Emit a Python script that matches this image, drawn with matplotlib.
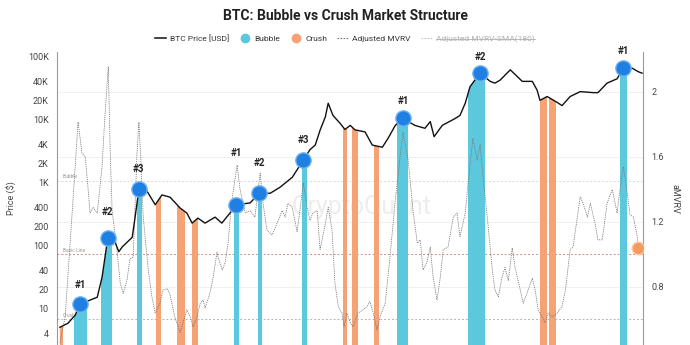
import matplotlib
matplotlib.use("Agg")
import matplotlib.pyplot as plt
import numpy as np
from matplotlib.lines import Line2D

plt.rcParams['font.family'] = ['Roboto', 'DejaVu Sans']

# BTC price (USD), decimal years
price_years = [2012.36, 2012.53, 2012.68, 2012.78, 2012.99, 2013.14, 2013.24, 2013.36, 2013.51, 2013.59,
               2013.66, 2013.87, 2013.93, 2014.01, 2014.05, 2014.20, 2014.35, 2014.49, 2014.66, 2014.87,
               2015.01, 2015.12, 2015.24, 2015.39, 2015.60, 2015.74, 2015.91, 2016.04, 2016.33, 2016.52,
               2016.75, 2016.96, 2017.21, 2017.44, 2017.58, 2017.69, 2017.79, 2017.90, 2017.96, 2018.06,
               2018.21, 2018.31, 2018.42, 2018.52, 2018.73, 2018.88, 2019.09, 2019.21, 2019.36, 2019.52,
               2019.77, 2019.98, 2020.09, 2020.17, 2020.34, 2020.61, 2020.71, 2020.82, 2020.92, 2021.13,
               2021.34, 2021.44, 2021.55, 2021.76, 2022.01, 2022.22, 2022.32, 2022.38, 2022.53, 2022.74,
               2022.84, 2023.01, 2023.22, 2023.49, 2023.59, 2023.78, 2023.99, 2024.12, 2024.30, 2024.43,
               2024.51]
price_usd = [5.0, 5.8, 7.8, 11.7, 13.5, 15, 31, 130, 113, 79,
             94, 134, 280, 780, 1000, 680, 440, 630, 580, 390,
             325, 225, 270, 225, 280, 225, 325, 440, 470, 670,
             670, 840, 1200, 2250, 3300, 3900, 6700, 10900, 18000, 11500,
             8600, 6900, 8000, 6800, 6300, 3900, 3600, 5000, 8000, 10300,
             8000, 7200, 9200, 5300, 8000, 10300, 11500, 18000, 33000, 54000,
             40000, 37500, 42000, 61000, 40000, 40000, 29000, 20000, 23000, 18500,
             16500, 23000, 27500, 26500, 26500, 37500, 44000, 65000, 65000, 57000,
             54000]

# Adjusted MVRV
mvrv_years = [2012.36, 2012.47, 2012.61, 2012.74, 2012.82, 2012.89, 2012.95, 2012.99, 2013.05, 2013.14,
              2013.24, 2013.30, 2013.37, 2013.41, 2013.45, 2013.55, 2013.62, 2013.68, 2013.76, 2013.82,
              2013.89, 2013.97, 2014.01, 2014.05, 2014.10, 2014.20, 2014.28, 2014.35, 2014.45, 2014.51,
              2014.60, 2014.66, 2014.76, 2014.87, 2014.93, 2015.01, 2015.08, 2015.14, 2015.22, 2015.29,
              2015.35, 2015.39, 2015.49, 2015.56, 2015.64, 2015.66, 2015.75, 2015.81, 2015.87, 2015.95,
              2016.06, 2016.12, 2016.23, 2016.33, 2016.43, 2016.54, 2016.60, 2016.68, 2016.79, 2016.89,
              2017.00, 2017.06, 2017.12, 2017.21, 2017.31, 2017.37, 2017.44, 2017.52, 2017.58, 2017.64,
              2017.73, 2017.79, 2017.90, 2017.96, 2018.04, 2018.10, 2018.17, 2018.25, 2018.29, 2018.35,
              2018.42, 2018.48, 2018.58, 2018.69, 2018.77, 2018.83, 2018.90, 2018.98, 2019.04, 2019.15,
              2019.25, 2019.36, 2019.46, 2019.52, 2019.63, 2019.73, 2019.82, 2019.88, 2019.94, 2020.02,
              2020.09, 2020.15, 2020.23, 2020.30, 2020.36, 2020.46, 2020.57, 2020.65, 2020.71, 2020.82,
              2020.88, 2020.98, 2021.07, 2021.13, 2021.19, 2021.28, 2021.38, 2021.44, 2021.51, 2021.59,
              2021.65, 2021.72, 2021.80, 2021.86, 2021.97, 2022.03, 2022.13, 2022.22, 2022.28, 2022.34,
              2022.43, 2022.49, 2022.55, 2022.63, 2022.74, 2022.84, 2022.91, 2023.01, 2023.07, 2023.16,
              2023.22, 2023.28, 2023.37, 2023.43, 2023.53, 2023.59, 2023.68, 2023.78, 2023.89, 2023.99,
              2024.05, 2024.12, 2024.20, 2024.26, 2024.33, 2024.41, 2024.43]
mvrv_vals = [0.455, 0.615, 1.23, 1.815, 1.625, 1.60, 1.40, 1.255, 1.29, 1.255,
             1.54, 1.85, 2.155, 1.64, 1.27, 1.03, 0.825, 0.76, 0.84, 0.97,
             0.985, 1.625, 1.815, 1.58, 1.23, 0.92, 0.74, 0.64, 0.70, 0.78,
             0.79, 0.75, 0.615, 0.52, 0.58, 0.66, 0.615, 0.555, 0.615, 0.70,
             0.72, 0.67, 0.76, 0.86, 1.015, 0.985, 0.905, 0.95, 1.07, 1.335,
             1.55, 1.40, 1.255, 1.27, 1.23, 1.50, 1.315, 1.15, 1.12, 1.19,
             1.27, 1.23, 1.315, 1.29, 1.14, 1.27, 1.44, 1.29, 1.21, 1.255,
             1.27, 1.03, 1.19, 1.29, 1.15, 0.825, 0.68, 0.64, 0.555, 0.64,
             0.58, 0.555, 0.64, 0.66, 0.68, 0.71, 0.64, 0.535, 0.615, 0.70,
             0.985, 1.335, 1.60, 1.75, 1.58, 1.27, 1.07, 1.09, 0.905, 0.95,
             1.045, 0.86, 0.72, 0.86, 1.03, 1.045, 1.23, 1.255, 1.11, 1.255,
             1.44, 1.715, 1.58, 1.675, 1.48, 1.23, 0.92, 0.78, 0.74, 0.86,
             0.92, 0.84, 1.04, 0.92, 0.78, 0.70, 0.78, 0.855, 0.78, 0.66,
             0.615, 0.58, 0.64, 0.615, 0.64, 0.68, 0.78, 1.03, 1.045, 1.23,
             1.355, 1.315, 1.23, 1.315, 1.19, 1.09, 1.09, 1.315, 1.40, 1.255,
             1.40, 1.54, 1.38, 1.245, 1.23, 1.11, 1.04]

# bubble peaks
bubble_years = [2012.78, 2013.36, 2014.01, 2016.04, 2016.52, 2017.44, 2019.52, 2021.13, 2024.12]
bubble_prices = [11.7, 130, 780, 440, 670, 2250, 10300, 54000, 65000]
bubble_labels = ["#1", "#2", "#3", "#1", "#2", "#3", "#1", "#2", "#1"]

bubble_periods = [(2012.66, 2012.92), (2013.22, 2013.45), (2013.97, 2014.07), (2015.99, 2016.10),
                  (2016.50, 2016.58), (2017.41, 2017.52), (2019.40, 2019.63), (2020.88, 2021.24),
                  (2024.05, 2024.20)]
crush_periods = [(2012.34, 2012.43), (2014.37, 2014.47), (2014.81, 2014.97), (2015.12, 2015.24),
                 (2018.27, 2018.35), (2018.46, 2018.58), (2018.92, 2019.02), (2022.38, 2022.53),
                 (2022.57, 2022.72)]

levels = [("Bubble", 1.45), ("Basic Line", 1.0), ("Crush", 0.6)]

price_ticks = [4, 10, 20, 40, 100, 200, 400, 1000, 2000, 4000, 10000, 20000, 40000, 100000]
price_tick_labels = ["4", "10", "20", "40", "100", "200", "400", "1K", "2K", "4K", "10K", "20K", "40K", "100K"]
mvrv_ticks = [0.8, 1.2, 1.6, 2]

# label offsets above markers (points)
label_offsets = [10, 15, 11, 34, 18, 11, 9, 8, 9]

cyan = '#5cc8de'
orange = '#f5a274'
blue = '#1f7fe3'

fig = plt.figure(figsize=(6.9, 3.45), dpi=100)
ax = fig.add_axes([57 / 690, 0.0, (643 - 57) / 690, 1 - 52 / 345])
axm = ax.twinx()

ax.set_yscale('log')
ax.set_ylim(2.615, 117000)
axm.set_ylim(0.443, 2.246)
ax.set_xlim(2012.3, 2024.53)

# watermark behind everything
axm.text(0.52, 0.47, "CryptoQuant", transform=axm.transAxes, fontsize=18, color='#ededed',
         ha='center', va='center', zorder=0)

# MVRV grid + levels
axm.set_yticks(mvrv_ticks)
axm.set_yticklabels(["0.8", "1.2", "1.6", "2"])
axm.grid(axis='y', color='#f0f0f0', lw=0.7)
axm.set_axisbelow(True)
level_styles = {"Bubble": ('#d8d8d8', (0, (2, 2))),
                "Basic Line": ('#c98e8c', (0, (2, 2))),
                "Crush": ('#b5b5b5', (0, (2, 2)))}
for name, val in levels:
    c, ls = level_styles[name]
    axm.axhline(val, color=c, lw=0.7, linestyle=ls, zorder=1)
    axm.text(2012.42, val + 0.012, name, fontsize=3.5, color='#999999', va='bottom', ha='left', zorder=1)

# bands, clipped below the price line
under = ax.fill_between(price_years, 1, price_usd, facecolor='none', edgecolor='none')
clip = under.get_paths()[0]
for a, b in bubble_periods:
    r = axm.axvspan(a, b, color=cyan, lw=0, zorder=2)
    r.set_clip_path(clip, ax.transData)
for a, b in crush_periods:
    r = axm.axvspan(a, b, color=orange, lw=0, zorder=2)
    r.set_clip_path(clip, ax.transData)

axm.plot(mvrv_years, mvrv_vals, color='#777777', lw=0.55, linestyle=(0, (1.6, 1.2)), zorder=3)
axm.plot(mvrv_years[-1], mvrv_vals[-1], 'o', ms=9, color='#f59a5e', mec='#fbc9a6', mew=1.0, zorder=4)

# price on top
ax.set_zorder(axm.get_zorder() + 1)
ax.patch.set_visible(False)
ax.plot(price_years, price_usd, color='#111111', lw=1.0, zorder=3)
ax.plot(bubble_years, bubble_prices, 'o', ms=11, color=blue, mec='#6fb2f2', mew=1.0, linestyle='none', zorder=4)
for yr, p, lab, off in zip(bubble_years, bubble_prices, bubble_labels, label_offsets):
    ax.annotate(lab, (yr, p), xytext=(0, off), textcoords='offset points', ha='center', va='bottom',
                fontsize=7, fontweight='bold', color='#222222', zorder=5)

ax.set_yticks(price_ticks)
ax.set_yticklabels(price_tick_labels)
ax.yaxis.set_minor_locator(matplotlib.ticker.NullLocator())
ax.set_xticks([])
for a in (ax, axm):
    a.tick_params(axis='y', length=0, labelsize=6.5, labelcolor='#444444', pad=6)
    for s in ('top', 'bottom'):
        a.spines[s].set_visible(False)
    a.spines['left'].set_color('#9a9a9a')
    a.spines['right'].set_color('#9a9a9a')
ax.spines['right'].set_visible(False)
axm.spines['left'].set_visible(False)
axm.set_xticks([])

ax.set_ylabel("Price ($)", fontsize=6.5, color='#444444', labelpad=8)
axm.set_ylabel("aMVRV", fontsize=6.5, color='#444444', rotation=270, labelpad=11)

fig.suptitle("BTC: Bubble vs Crush Market Structure", x=0.5, y=0.975, fontsize=10, fontweight='bold',
             color='#222222')

handles = [Line2D([], [], color='#222222', lw=1.2),
           Line2D([], [], marker='o', color=cyan, ms=6, linestyle='none'),
           Line2D([], [], marker='o', color=orange, ms=6, linestyle='none'),
           Line2D([], [], color='#777777', lw=0.8, linestyle=(0, (1.5, 1.2))),
           Line2D([], [], color='#c8c8c8', lw=0.8, linestyle=(0, (1.5, 1.2)))]
names = ["BTC Price [USD]", "Bubble", "Crush", "Adjusted MVRV", "Adjusted MVRV-SMA(180)"]
leg = fig.legend(handles, names, loc='center', bbox_to_anchor=(0.5, 0.888), ncol=5, frameon=False,
                 fontsize=6, handlelength=1.3, handletextpad=0.5, columnspacing=1.2)
for t in leg.get_texts()[:4]:
    t.set_color('#333333')
last = leg.get_texts()[-1]
last.set_color('#b0b0b0')

fig.canvas.draw()
bb = last.get_window_extent()
ymid = (bb.y0 + bb.y1) / 2
fig.add_artist(Line2D([bb.x0, bb.x1], [ymid, ymid], color='#b0b0b0', lw=0.6, transform=None))

fig.savefig("out.png", dpi=100)
